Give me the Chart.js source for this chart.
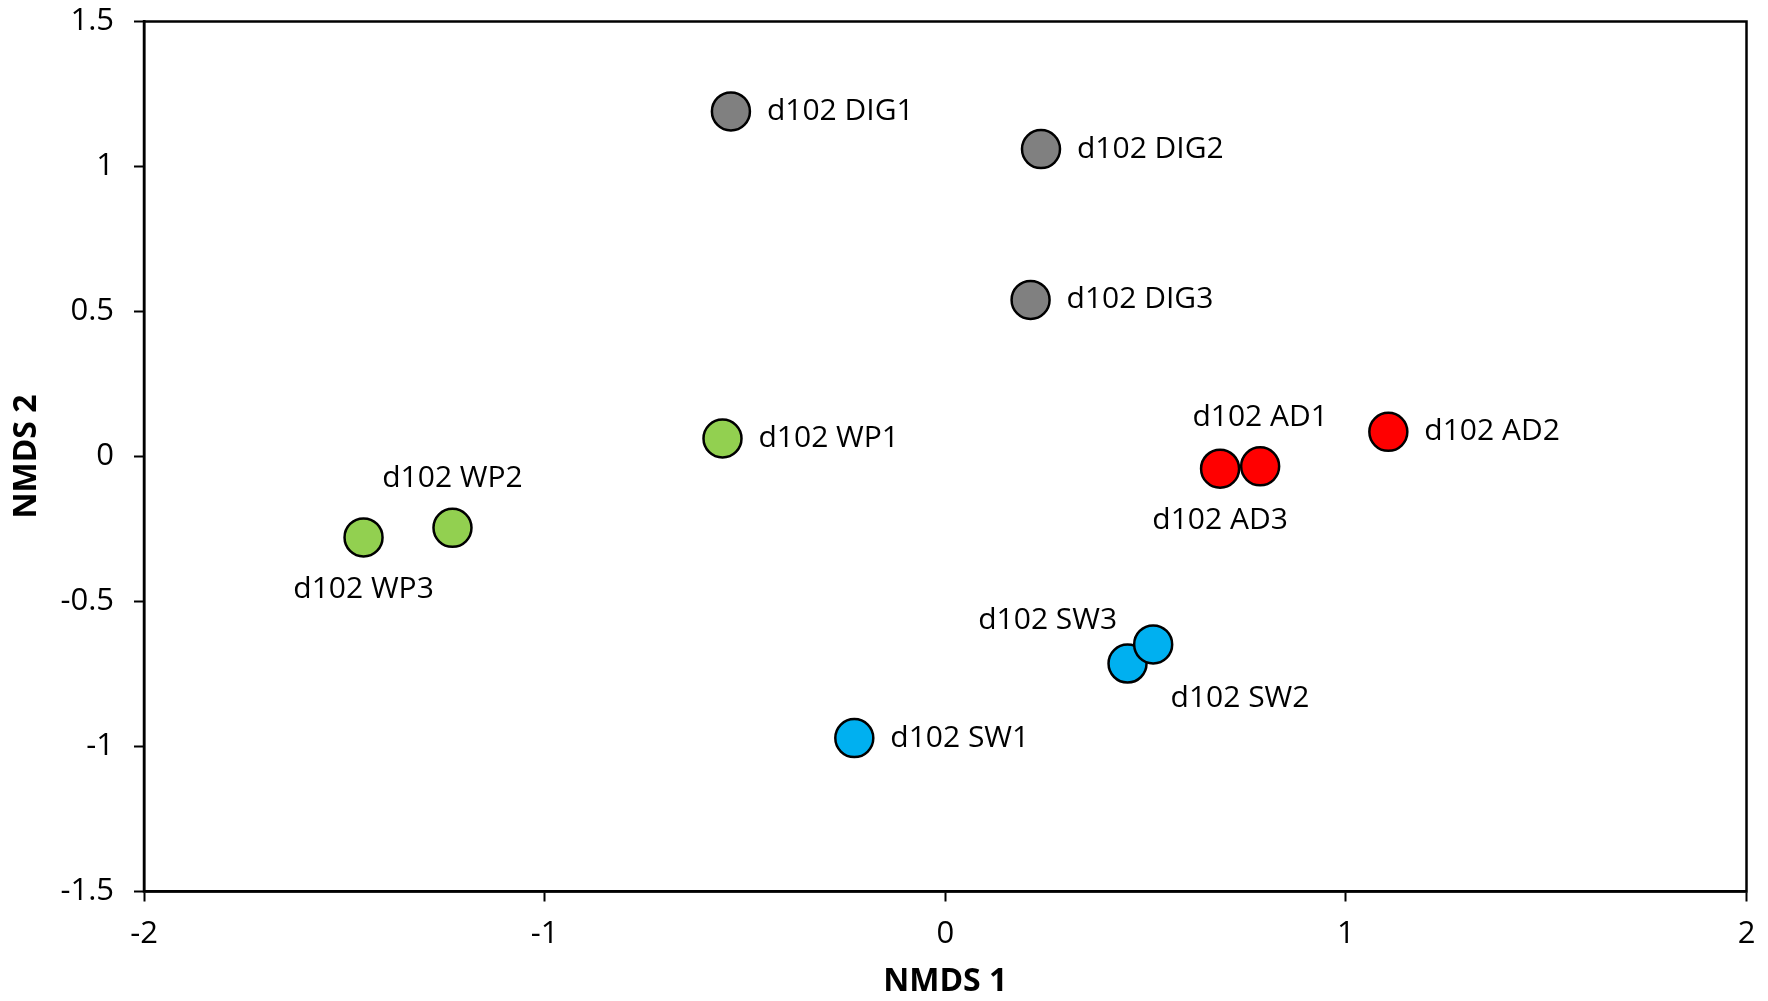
<!DOCTYPE html>
<html>
<head>
<meta charset="utf-8">
<script src="https://cdn.jsdelivr.net/npm/chart.js@4/dist/chart.umd.min.js"></script>
<style>
  html, body { margin: 0; padding: 0; background: #fff; }
  #wrap { width: 1768px; height: 1001px; }
</style>
</head>
<body>
<div id="wrap"><canvas id="nmds"></canvas></div>
<script>
// NMDS ordination scores per sample group
const digNames = ['d102 DIG1', 'd102 DIG2', 'd102 DIG3'];
const digX = [-0.535, 0.239, 0.213];
const digY = [1.190, 1.060, 0.540];

const wpNames = ['d102 WP1', 'd102 WP2', 'd102 WP3'];
const wpX = [-0.556, -1.230, -1.452];
const wpY = [0.062, -0.246, -0.279];

const adNames = ['d102 AD2', 'd102 AD3', 'd102 AD1'];
const adX = [1.106, 0.686, 0.786];
const adY = [0.085, -0.042, -0.034];

const swNames = ['d102 SW1', 'd102 SW2', 'd102 SW3'];
const swX = [-0.227, 0.455, 0.519];
const swY = [-0.971, -0.714, -0.648];

const xTicks = [-2, -1, 0, 1, 2];
const yTicks = [-1.5, -1, -0.5, 0, 0.5, 1, 1.5];

const FONT = "'Open Sans', 'Noto Sans', sans-serif";

// where each sample label sits relative to its marker
const labelPos = {
  'd102 WP2': { side: 'above' },
  'd102 WP3': { side: 'below' },
  'd102 AD1': { side: 'above' },
  'd102 AD3': { side: 'below' },
  'd102 SW3': { side: 'left', dy: -24 },
  'd102 SW2': { side: 'belowRight' }
};

function points(names, xs, ys) {
  return names.map((n, i) => ({ x: xs[i], y: ys[i], name: n }));
}

function group(names, xs, ys, color) {
  return {
    data: points(names, xs, ys),
    backgroundColor: color,
    borderColor: '#000',
    borderWidth: 2.5,
    pointRadius: 19,
    pointHoverRadius: 19
  };
}

// sample names next to the markers
const sampleLabels = {
  id: 'sampleLabels',
  afterDatasetsDraw(chart) {
    const ctx = chart.ctx;
    ctx.save();
    ctx.font = "30px " + FONT;
    ctx.fillStyle = '#000';
    chart.data.datasets.forEach((ds, di) => {
      const meta = chart.getDatasetMeta(di);
      meta.data.forEach((el, i) => {
        const name = ds.data[i].name;
        const p = labelPos[name] || { side: 'right' };
        let x = el.x, y = el.y;
        ctx.textBaseline = 'middle';
        if (p.side === 'right') { ctx.textAlign = 'left'; x += 36; }
        else if (p.side === 'left') { ctx.textAlign = 'right'; x -= 36; }
        else if (p.side === 'above') { ctx.textAlign = 'center'; y -= 49; }
        else if (p.side === 'below') { ctx.textAlign = 'center'; y += 52; }
        else if (p.side === 'belowRight') { ctx.textAlign = 'left'; x += 43; y += 35; }
        if (p.dy) y += p.dy;
        ctx.fillText(name, x, y);
      });
    });
    ctx.restore();
  }
};

// closed frame around the plotting area
const frame = {
  id: 'frame',
  afterDraw(chart) {
    const a = chart.chartArea, ctx = chart.ctx;
    ctx.save();
    ctx.strokeStyle = '#000';
    ctx.lineWidth = 2.5;
    ctx.strokeRect(a.left, a.top, a.right - a.left, a.bottom - a.top);
    ctx.restore();
  }
};

new Chart(document.getElementById('nmds'), {
  type: 'scatter',
  data: {
    datasets: [
      group(digNames, digX, digY, '#808080'),
      group(wpNames, wpX, wpY, '#92D050'),
      group(adNames, adX, adY, '#FF0000'),
      group(swNames, swX, swY, '#00B0F0')
    ]
  },
  options: {
    responsive: true,
    maintainAspectRatio: false,
    animation: false,
    events: [],
    layout: { padding: { left: 0, top: 20, right: 17.5, bottom: 0 } },
    plugins: { legend: { display: false }, tooltip: { enabled: false } },
    scales: {
      x: {
        type: 'linear',
        min: -2, max: 2,
        afterBuildTicks(s) { s.ticks = xTicks.map(v => ({ value: v })); },
        afterFit(s) { s.height = 109.5; s.paddingLeft = 0; s.paddingRight = 0; },
        grid: { drawOnChartArea: false, tickLength: 10, tickWidth: 2, tickColor: '#000' },
        border: { display: true, color: '#000', width: 2.5 },
        ticks: { color: '#000', font: { family: FONT, size: 31, lineHeight: 2.1 }, padding: 0, maxRotation: 0, callback: v => String(v) },
        title: { display: true, text: 'NMDS 1', color: '#000', font: { family: FONT, size: 32, weight: 'bold' }, padding: { top: 0, bottom: 0 } }
      },
      y: {
        type: 'linear',
        min: -1.5, max: 1.5,
        afterBuildTicks(s) { s.ticks = yTicks.map(v => ({ value: v })); },
        afterFit(s) { s.width = 144; s.paddingTop = 0; s.paddingBottom = 0; },
        grid: { drawOnChartArea: false, tickLength: 10, tickWidth: 2, tickColor: '#000' },
        border: { display: true, color: '#000', width: 2.5 },
        ticks: { color: '#000', font: { family: FONT, size: 31 }, padding: 20, callback: v => String(v) },
        title: { display: true, text: 'NMDS 2', color: '#000', font: { family: FONT, size: 32, weight: 'bold' }, padding: { top: 8, bottom: 0 } }
      }
    }
  },
  plugins: [sampleLabels, frame]
});
</script>
</body>
</html>
